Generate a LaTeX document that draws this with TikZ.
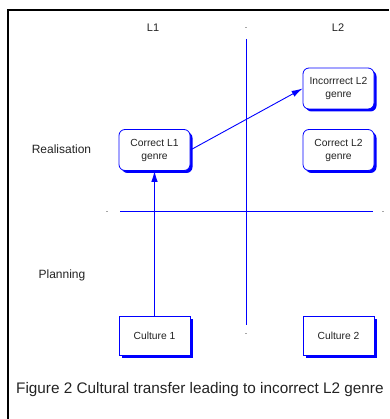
\documentclass[tikz,border=0pt]{standalone}
\usepackage{fontspec}
\setmainfont{Liberation Sans}
\usetikzlibrary{arrows.meta,shadows}
\definecolor{txt}{HTML}{222222}
\begin{document}
\begin{tikzpicture}[x=1pt,y=-1pt,
  genrebox/.style={draw=blue, line width=0.8pt, fill=white, rounded corners=6pt,
    minimum width=71pt, minimum height=41pt, align=center, inner sep=1pt,
    text=txt, font=\fontsize{10.3}{13}\selectfont,
    drop shadow={shadow xshift=2.5pt, shadow yshift=-2.5pt, fill=blue, opacity=1}},
  culturebox/.style={draw=blue, line width=0.8pt, fill=white,
    minimum width=71pt, minimum height=39pt, align=center, inner sep=1pt,
    text=txt, font=\fontsize{10.3}{13}\selectfont,
    drop shadow={shadow xshift=3pt, shadow yshift=-3pt, fill=blue, opacity=1}},
  axis/.style={draw=blue, line width=0.9pt},
  conn/.style={draw=blue, line width=0.9pt, -{Latex[length=11pt,width=6.5pt]}},
  lab/.style={text=txt, anchor=base, inner sep=0pt},
  tick/.style={draw=gray!70, line width=0.5pt}
]
\useasboundingbox (0,0) rectangle (389,419);
\draw[line width=1.2pt] (8,419) -- (8,10) -- (389,10);

% labels
\node[lab, font=\fontsize{11}{13}\selectfont] (l1) at (153,31.7) {L1};
\node[lab, font=\fontsize{11}{13}\selectfont] (l2) at (338,31.7) {L2};
\node[lab, font=\fontsize{12}{14}\selectfont] (real) at (61.5,154) {Realisation};
\node[lab, font=\fontsize{12}{14}\selectfont] (plan) at (62,278) {Planning};

% axes
\coordinate (vtop) at (246,39);
\coordinate (vbot) at (246,325);
\coordinate (hl) at (120,211);
\coordinate (hr) at (373,211);
\draw[axis] (vtop) -- (vbot);
\draw[axis] (hl) -- (hr);

% tiny marks
\draw[tick] (245.3,27) -- (246.7,27);
\draw[tick] (245.3,333) -- (246.7,333);
\draw[tick] (106.3,211) -- (107.7,211);
\draw[tick] (382.3,211) -- (383.7,211);

% boxes
\node[genrebox] (cl1) at (154.5,150) {Correct L1\\genre};
\node[genrebox] (il2) at (338.5,88.5) {Incorrrect L2\\genre};
\node[genrebox] (cl2) at (338.5,150) {Correct L2\\genre};
\node[culturebox] (cu1) at (154.5,335.5) {Culture 1};
\node[culturebox] (cu2) at (338.5,335.5) {Culture 2};

% connectors
\draw[conn] (cu1.north) -- (cl1.south);
\draw[conn] (cl1.east) -- (il2.west);

% caption
\node[anchor=base west, inner sep=0pt, text=txt, font=\fontsize{15.3}{17}\selectfont] (cap) at (16,393) {Figure 2 Cultural transfer leading to incorrect L2 genre};
\end{tikzpicture}
\end{document}
